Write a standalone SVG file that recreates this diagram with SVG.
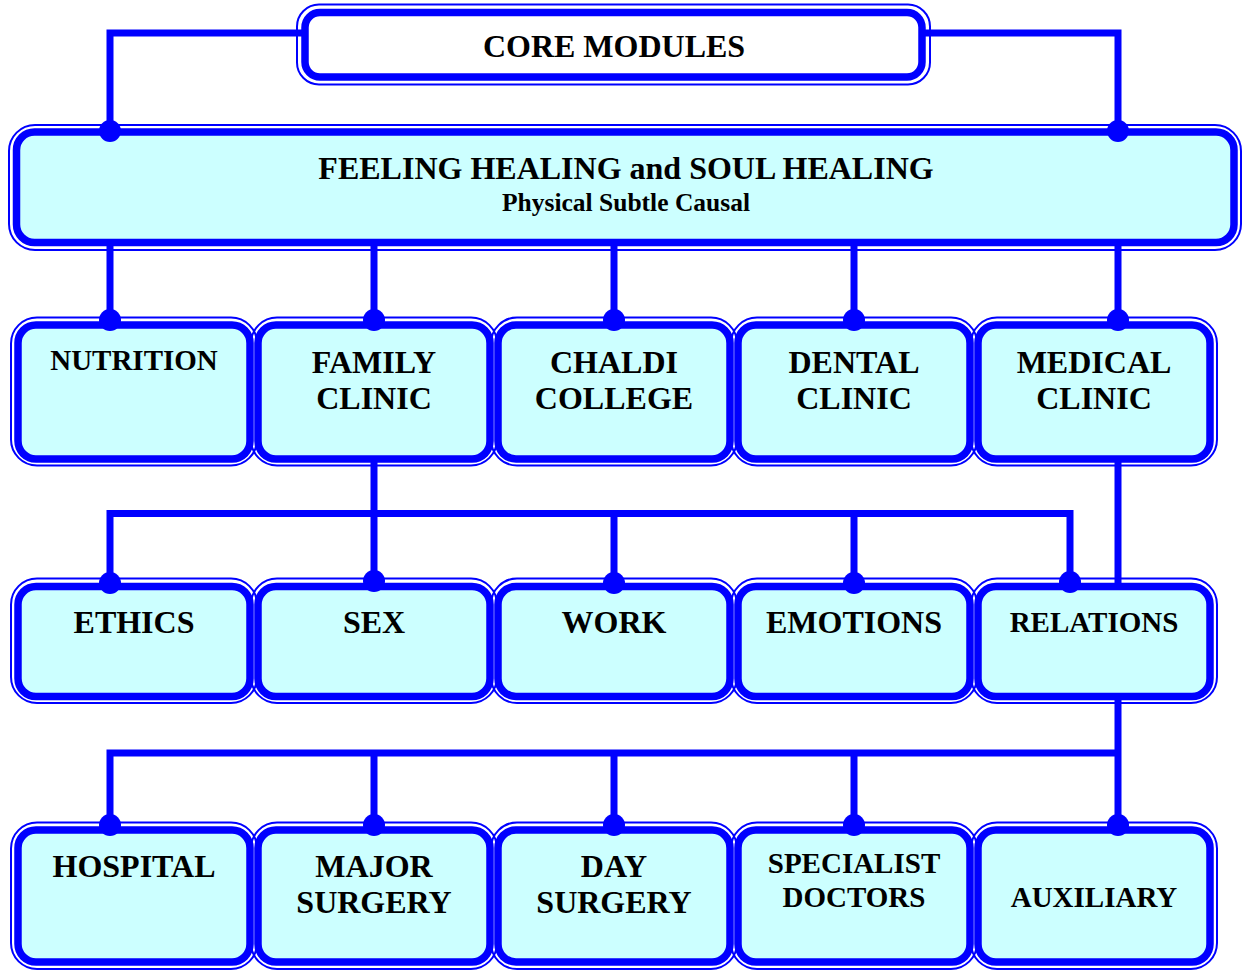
<svg xmlns="http://www.w3.org/2000/svg" width="1243" height="970" viewBox="0 0 1243 970">
<style>
.o{fill:none;stroke:#0000FF;stroke-width:2}
.i{fill:#CCFFFF;stroke:#0000FF;stroke-width:7.5}
.t{font-weight:bold;fill:#000;text-anchor:middle}
.l{font-size:32px}
.s{font-size:29px}
.c{fill:none;stroke:#0000FF;stroke-width:7}
.d{fill:#0000FF}
</style>
<rect width="1243" height="970" fill="#FFFFFF"/>
<g font-family="Liberation Serif, Times New Roman, serif">
<g id="core-modules">
<rect class="o" x="297" y="4.5" width="633" height="80" rx="22"/>
<rect x="305" y="12.5" width="617" height="64.5" rx="15" fill="#FFFFFF" stroke="#0000FF" stroke-width="7.5"/>
<text class="t l" x="614" y="57">CORE MODULES</text>
</g>
<g id="feeling-healing">
<rect class="o" x="9" y="125" width="1232" height="125" rx="26"/>
<rect class="i" x="16.5" y="132" width="1217.5" height="110.5" rx="18"/>
<text class="t" x="626" y="179" font-size="32">FEELING HEALING and SOUL HEALING</text>
<text class="t" x="626" y="211" font-size="25.5">Physical Subtle Causal</text>
</g>
<g id="row1-outlines">
<rect class="o" x="11" y="317.5" width="246" height="148" rx="26"/>
<rect class="o" x="251" y="317.5" width="246" height="148" rx="26"/>
<rect class="o" x="491" y="317.5" width="246" height="148" rx="26"/>
<rect class="o" x="731" y="317.5" width="246" height="148" rx="26"/>
<rect class="o" x="971" y="317.5" width="246" height="148" rx="26"/>
</g>
<g id="nutrition">
<rect class="i" x="18" y="325" width="232" height="134" rx="18"/>
<text class="t s" x="134" y="370">NUTRITION</text>
</g>
<g id="family-clinic">
<rect class="i" x="258" y="325" width="232" height="134" rx="18"/>
<text class="t l" x="374" y="373">FAMILY</text>
<text class="t l" x="374" y="409">CLINIC</text>
</g>
<g id="chaldi-college">
<rect class="i" x="498" y="325" width="232" height="134" rx="18"/>
<text class="t l" x="614" y="373">CHALDI</text>
<text class="t l" x="614" y="409">COLLEGE</text>
</g>
<g id="dental-clinic">
<rect class="i" x="738" y="325" width="232" height="134" rx="18"/>
<text class="t l" x="854" y="373">DENTAL</text>
<text class="t l" x="854" y="409">CLINIC</text>
</g>
<g id="medical-clinic">
<rect class="i" x="978" y="325" width="232" height="134" rx="18"/>
<text class="t l" x="1094" y="373">MEDICAL</text>
<text class="t l" x="1094" y="409">CLINIC</text>
</g>
<g id="row2-outlines">
<rect class="o" x="11" y="578.5" width="246" height="124.5" rx="26"/>
<rect class="o" x="251" y="578.5" width="246" height="124.5" rx="26"/>
<rect class="o" x="491" y="578.5" width="246" height="124.5" rx="26"/>
<rect class="o" x="731" y="578.5" width="246" height="124.5" rx="26"/>
<rect class="o" x="971" y="578.5" width="246" height="124.5" rx="26"/>
</g>
<g id="ethics">
<rect class="i" x="18" y="586.5" width="232" height="110" rx="18"/>
<text class="t l" x="134" y="633">ETHICS</text>
</g>
<g id="sex">
<rect class="i" x="258" y="586.5" width="232" height="110" rx="18"/>
<text class="t l" x="374" y="633">SEX</text>
</g>
<g id="work">
<rect class="i" x="498" y="586.5" width="232" height="110" rx="18"/>
<text class="t l" x="614" y="633">WORK</text>
</g>
<g id="emotions">
<rect class="i" x="738" y="586.5" width="232" height="110" rx="18"/>
<text class="t l" x="854" y="633">EMOTIONS</text>
</g>
<g id="relations">
<rect class="i" x="978" y="586.5" width="232" height="110" rx="18"/>
<text class="t s" x="1094" y="632">RELATIONS</text>
</g>
<g id="row3-outlines">
<rect class="o" x="11" y="822.5" width="246" height="146.5" rx="26"/>
<rect class="o" x="251" y="822.5" width="246" height="146.5" rx="26"/>
<rect class="o" x="491" y="822.5" width="246" height="146.5" rx="26"/>
<rect class="o" x="731" y="822.5" width="246" height="146.5" rx="26"/>
<rect class="o" x="971" y="822.5" width="246" height="146.5" rx="26"/>
</g>
<g id="hospital">
<rect class="i" x="18" y="830" width="232" height="132" rx="18"/>
<text class="t l" x="134" y="877">HOSPITAL</text>
</g>
<g id="major-surgery">
<rect class="i" x="258" y="830" width="232" height="132" rx="18"/>
<text class="t l" x="374" y="877">MAJOR</text>
<text class="t l" x="374" y="913">SURGERY</text>
</g>
<g id="day-surgery">
<rect class="i" x="498" y="830" width="232" height="132" rx="18"/>
<text class="t l" x="614" y="877">DAY</text>
<text class="t l" x="614" y="913">SURGERY</text>
</g>
<g id="specialist-doctors">
<rect class="i" x="738" y="830" width="232" height="132" rx="18"/>
<text class="t s" x="854" y="873">SPECIALIST</text>
<text class="t s" x="854" y="907">DOCTORS</text>
</g>
<g id="auxiliary">
<rect class="i" x="978" y="830" width="232" height="132" rx="18"/>
<text class="t s" x="1094" y="907">AUXILIARY</text>
</g>
</g>
<g id="connectors">
<path class="c" d="M302 33 H110 V131"/>
<path class="c" d="M925 33 H1118 V131"/>
<path class="c" d="M110 246 V320 M374 246 V320 M614 246 V320 M854 246 V320 M1118 246 V320"/>
<path class="c" d="M374 462 V581"/>
<path class="c" d="M110 583 V513.5 H1070 V582 M614 513.5 V583 M854 513.5 V583"/>
<path class="c" d="M1118 462 V584"/>
<path class="c" d="M1118 699 V825 M1118 753 H110 V825 M374 753 V825 M614 753 V825 M854 753 V825"/>
<circle class="d" cx="110" cy="131" r="11"/>
<circle class="d" cx="1118" cy="131" r="11"/>
<circle class="d" cx="110" cy="320" r="11"/>
<circle class="d" cx="374" cy="320" r="11"/>
<circle class="d" cx="614" cy="320" r="11"/>
<circle class="d" cx="854" cy="320" r="11"/>
<circle class="d" cx="1118" cy="320" r="11"/>
<circle class="d" cx="110" cy="583" r="11"/>
<circle class="d" cx="374" cy="581" r="11"/>
<circle class="d" cx="614" cy="583" r="11"/>
<circle class="d" cx="854" cy="583" r="11"/>
<circle class="d" cx="1070" cy="582" r="11"/>
<circle class="d" cx="110" cy="825" r="11"/>
<circle class="d" cx="374" cy="825" r="11"/>
<circle class="d" cx="614" cy="825" r="11"/>
<circle class="d" cx="854" cy="825" r="11"/>
<circle class="d" cx="1118" cy="825" r="11"/>
</g>
</svg>
